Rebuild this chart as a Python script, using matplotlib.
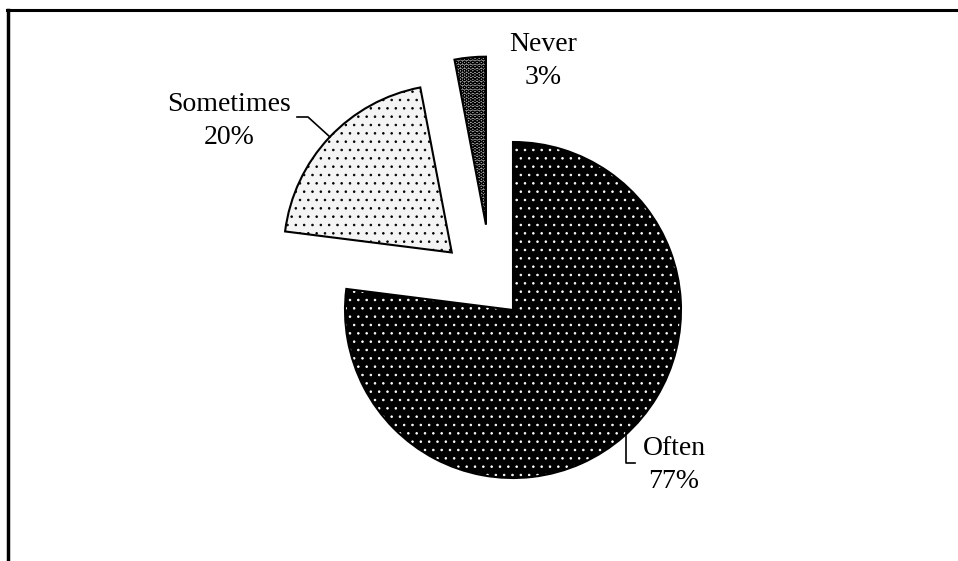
import matplotlib.pyplot as plt
from matplotlib.lines import Line2D

# Frequency answers (share of respondents, %)
categories = ['Often', 'Sometimes', 'Never']
shares = [77, 20, 3]

# styling per slice
fills = ['black', '#f4f4f4', '#9a9a9a']
hatch_colors = ['white', 'black', 'black']
hatches = ['..', '..', 'OOOO']
explode_frac = [0, 0.5, 0.51]   # in units of radius

plt.rcParams['font.family'] = ['Liberation Serif', 'DejaVu Serif']
plt.rcParams['hatch.linewidth'] = 0.6

W, H = 958, 561
fig = plt.figure(figsize=(W / 100, H / 100), dpi=100)
ax = fig.add_axes([0, 0, 1, 1])

center = (513, H - 310)
radius = 168
explode = [e * radius for e in explode_frac]

# filled + hatched slices
wedges, _ = ax.pie(shares, explode=explode, startangle=90, counterclock=False,
                   center=center, radius=radius, colors=fills,
                   wedgeprops=dict(linewidth=0))
for w, hc, h in zip(wedges, hatch_colors, hatches):
    w.set_hatch(h)
    w.set_edgecolor(hc)

# outlines on top
outlines, _ = ax.pie(shares, explode=explode, startangle=90, counterclock=False,
                     center=center, radius=radius, colors=['none'] * len(shares),
                     wedgeprops=dict(edgecolor='black', linewidth=1.5))

# Never slice sits a bit further left in the original
nudge = -0.113 * radius
for w in (wedges[2], outlines[2]):
    cx, cy = w.center
    w.set_center((cx + nudge, cy))

ax.set_xlim(0, W)
ax.set_ylim(0, H)
ax.set_aspect('equal')
ax.axis('off')

# data labels
label_pos = [(674, H - 465), (229, H - 121), (543, H - 61)]
for cat, s, (x, y) in zip(categories, shares, label_pos):
    ax.text(x, y, f'{cat}\n{s}%', ha='center', va='center', fontsize=20,
            linespacing=1.45)

# leader lines
ax.plot([297, 308, 330], [H - 117, H - 117, H - 137], color='black', lw=1.2)
ax.plot([626, 626, 635], [H - 432, H - 463, H - 463], color='black', lw=1.2)

# chart border (top and left only visible)
fig.add_artist(Line2D([7 / W, 1], [1 - 10 / H, 1 - 10 / H],
                      transform=fig.transFigure, color='black', lw=2.2))
fig.add_artist(Line2D([8 / W, 8 / W], [0, 1 - 10 / H],
                      transform=fig.transFigure, color='black', lw=2.5))

fig.savefig('out.png', dpi=100)
